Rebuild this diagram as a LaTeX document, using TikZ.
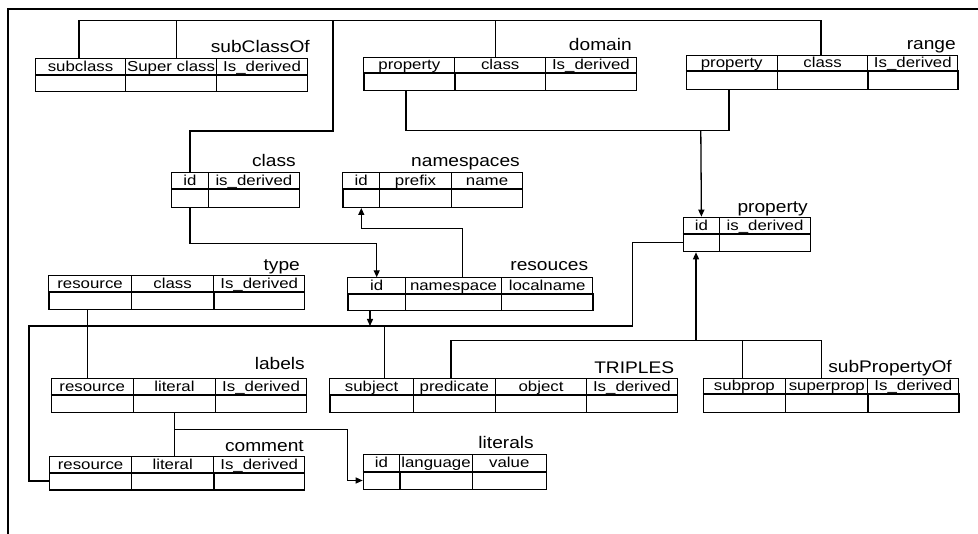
\documentclass[tikz,border=0pt]{standalone}
\usepackage{fontspec}
\setmainfont{Liberation Sans}
\newfontfamily\hfont{Liberation Sans}[FakeStretch=1.17]
\newfontfamily\tfont{Liberation Sans}[FakeStretch=1.14]
\usetikzlibrary{arrows.meta}

\tikzset{
  hcell/.style={draw, line width=1.1pt, inner sep=0pt, text height=11.4pt, text depth=1.6pt,
    font=\hfont\fontsize{14.4}{16}\selectfont, anchor=north west},
  bcell/.style={draw, line width=1.3pt, inner sep=0pt, anchor=north west},
  ttl/.style={inner sep=0pt, anchor=base east, font=\tfont\fontsize{16.8}{18}\selectfont},
  conn/.style={line width=1.3pt},
  arr/.style={line width=1.3pt, -{Triangle[length=7pt,width=6pt]}},
  frame/.style={line width=2.2pt}
}

% a table: name, top, header bottom, bottom, title x, title baseline, title, columns x1/x2/text/index
\newcommand\dbtable[8]{%
  \foreach \xa/\xb/\t/\i in {#8} {
    \node[hcell, minimum width={(\xb-\xa)*1pt}, minimum height={(#3-#2)*1pt}] (#1-h\i) at (\xa,#2) {\t};
    \node[bcell, minimum width={(\xb-\xa)*1pt}, minimum height={(#4-#3)*1pt}] (#1-b\i) at (\xa,#3) {};
    \draw[line width=1.8pt] (#1-h\i.south west) -- (#1-h\i.south east);
  }
  \node[ttl] (#1-t) at (#5,#6) {#7};
}

\begin{document}
\begin{tikzpicture}[x=1pt, y=-1pt]
\useasboundingbox (0,0) rectangle (978,534);

% outer frame (top and left edges)
\coordinate (fbl) at (8,540);
\coordinate (ftl) at (8,9);
\coordinate (ftr) at (985,9);
\draw[frame] (fbl) -- (ftl) -- (ftr);

% tables
\dbtable{sc}{57.7}{74}{90.7}{310}{53}{subClassOf}{35/125/subclass/1, 125/216/Super class/2, 216/307/Is\_derived/3}
\dbtable{dm}{56.7}{71.7}{90}{632}{50.7}{domain}{363.3/454.3/property/1, 454.3/545/class/2, 545/635.7/Is\_derived/3}
\dbtable{rg}{55}{70}{89}{956}{49.3}{range}{685.7/776.7/property/1, 776.7/867.3/class/2, 867.3/957.3/Is\_derived/3}
\dbtable{cl}{172.3}{188.3}{206.7}{296}{166.7}{class}{171/207.7/id/1, 207.7/299/is\_derived/2}
\dbtable{ns}{172.3}{188.3}{206.7}{520}{167}{namespaces}{342.3/379/id/1, 379/451/prefix/2, 451/522/name/3}
\dbtable{pr}{216.7}{232.7}{251}{808}{212.7}{property}{682.7/719/id/1, 719/810/is\_derived/2}
\dbtable{rs}{277.3}{293.3}{310}{588.3}{270.7}{resouces}{347.3/405/id/1, 405/501/namespace/2, 501/592.3/localname/3}
\dbtable{ty}{275}{290.7}{309}{300}{270.7}{type}{48.3/130.7/resource/1, 130.7/213.3/class/2, 213.3/304/Is\_derived/3}
\dbtable{lb}{378.3}{394.3}{412}{305}{370}{labels}{50.7/132.7/resource/1, 132.7/215/literal/2, 215/306/Is\_derived/3}
\dbtable{tr}{378.3}{394}{411.7}{674.3}{373.3}{TRIPLES}{329.3/412.7/subject/1, 412.7/495/predicate/2, 495/586/object/3, 586/676.7/Is\_derived/4}
\dbtable{sp}{377.7}{393.3}{411.7}{952}{372.3}{subPropertyOf}{702.7/785/subprop/1, 785/867.3/superprop/2, 867.3/958.3/Is\_derived/3}
\dbtable{cm}{455.7}{471.7}{489.3}{304}{451.7}{comment}{49/131/resource/1, 131/213.3/literal/2, 213.3/304/Is\_derived/3}
\dbtable{lt}{454.3}{470.7}{489}{534}{448.3}{literals}{362.7/399.3/id/1, 399.3/471.7/language/2, 471.7/545.7/value/3}

% class references
\coordinate (cbusL) at (79,20.7);
\coordinate (cbusR) at (821,20.7);
\draw[conn] (79,0 |- sc-h1.north) -- (cbusL) -- (cbusR) -- (821,0 |- rg-h2.north);
\draw[conn] (176.7,0 |- sc-h2.north) -- (176.7,20.7);
\draw[conn] (495.7,0 |- dm-h2.north) -- (495.7,20.7);
\draw[conn] (333,20.7) -- (333,131) -| (cl-h1.north);

% property references from domain and range
\coordinate (pjoin) at (700.8,130.5);
\draw[conn] (406,0 |- dm-b1.south) |- (pjoin);
\draw[conn] (729,0 |- rg-b1.south) |- (pjoin);
\draw[arr] (pjoin) -- (pr-h1.north);

% class.id to resouces.id
\draw[arr] (cl-b1.south) -- ++(0,35.6) -| (rs-h1.north);

% resouces.namespace to namespaces.id
\draw[arr] (462.3,0 |- rs-h2.north) -- (462.3,228.3) -| (ns-b1.south);

% resource bus
\coordinate (rbus) at (370,326);
\draw[arr] (370,0 |- rs-b1.south) -- (rbus);
\draw[conn] (pr-b1.west) -| (632.7,326) -- (29,326) |- (cm-b1.west);
\draw[conn] (384.3,326) -- (384.3,0 |- tr-h1.north);

% type.resource to labels.resource
\draw[conn] (87.3,0 |- ty-b1.south) -- (87.3,0 |- lb-h1.north);

% literal references
\draw[conn] (lb-b2.south) -- (lb-b2.south |- cm-h2.north);
\draw[arr] (lb-b2.south |- 0,429.3) -- (347.7,429.3) |- (lt-b1.west);

% predicate references
\coordinate (pbus) at (451,340.7);
\draw[conn] (451,0 |- tr-h2.north) -- (pbus) -- (821.7,340.7) -- (821.7,0 |- sp-h2.north);
\draw[conn] (742.3,340.7) -- (742.3,0 |- sp-h1.north);
\draw[arr] (696,340.7) -- (696,0 |- pr-b1.south);
\end{tikzpicture}
\end{document}
